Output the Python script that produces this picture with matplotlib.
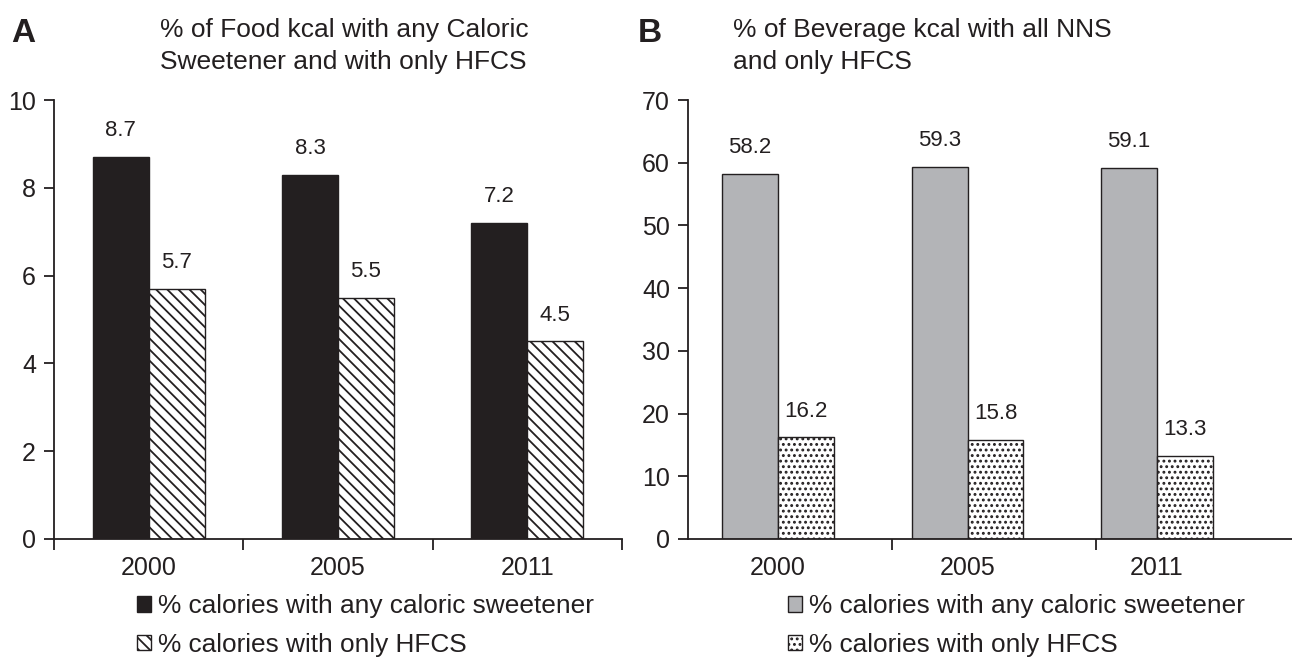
import matplotlib
matplotlib.use("Agg")
import matplotlib.pyplot as plt
from matplotlib.patches import Patch
import numpy as np

plt.rcParams['font.family'] = ['Liberation Sans', 'DejaVu Sans']
plt.rcParams['hatch.linewidth'] = 1.3

years = ["2000", "2005", "2011"]
food_any = [8.7, 8.3, 7.2]
food_hfcs = [5.7, 5.5, 4.5]
bev_any = [58.2, 59.3, 59.1]
bev_hfcs = [16.2, 15.8, 13.3]
label_any = "% calories with any caloric sweetener"
label_hfcs = "% calories with only HFCS"
title_a = "% of Food kcal with any Caloric\nSweetener and with only HFCS"
title_b = "% of Beverage kcal with all NNS\nand only HFCS"

W, H = 1292, 658
fig = plt.figure(figsize=(W / 100, H / 100), dpi=100)

def fx(px):
    return px / W

def fy(py):
    return 1 - py / H

ink = "#231f20"
gray = "#b3b4b7"
bw = 0.295
x = np.arange(len(years))
hatch_a = "\\\\\\"
hatch_b = "..."

# Panel A
axA = fig.add_axes([fx(54), fy(539), fx(622) - fx(54), fy(100) - fy(539)])
b1 = axA.bar(x - bw / 2, food_any, bw, color=ink, edgecolor=ink, linewidth=1)
b2 = axA.bar(x + bw / 2, food_hfcs, bw, color="white", edgecolor=ink, hatch=hatch_a, linewidth=1)
axA.set_ylim(0, 10)
axA.set_xlim(-0.5, 2.5)
axA.set_yticks(range(0, 11, 2))

# Panel B
cA = (778 - 688) / 189.5
axB = fig.add_axes([fx(688), fy(539), 1 - fx(688), fy(100) - fy(539)])
b3 = axB.bar(x - bw / 2, bev_any, bw, color=gray, edgecolor=ink, linewidth=1)
b4 = axB.bar(x + bw / 2, bev_hfcs, bw, color="white", edgecolor=ink, hatch=hatch_b, linewidth=1)
axB.set_ylim(0, 70)
axB.set_xlim(-cA, 2 + (1292 - 1157) / 189.5)
axB.set_yticks(range(0, 71, 10))

for ax, bars_list in ((axA, (b1, b2)), (axB, (b3, b4))):
    for bars in bars_list:
        for r in bars:
            ax.annotate("{:.1f}".format(r.get_height()), (r.get_x() + r.get_width() / 2, r.get_height()),
                        xytext=(0, 19), textcoords="offset points", ha="center", va="center",
                        fontsize=16, color=ink)
    for s in ("top", "right"):
        ax.spines[s].set_visible(False)
    for s in ("left", "bottom"):
        ax.spines[s].set_color(ink)
        ax.spines[s].set_linewidth(1.3)
    ax.set_xticks(x)
    ax.set_xticklabels(years)
    ax.tick_params(axis="x", length=0, labelsize=18, colors=ink, pad=12)
    ax.tick_params(axis="y", direction="out", length=7, width=1.3, labelsize=18, colors=ink, pad=6)

axA.set_xticks([-0.5, 0.5, 1.5, 2.5], minor=True)
axB.set_xticks([(892 - 778) / 189.5, (1096 - 778) / 189.5], minor=True)
for ax in (axA, axB):
    ax.tick_params(axis="x", which="minor", direction="out", length=8, width=1.3, colors=ink)

# Titles and panel letters
fig.text(fx(160), fy(46), title_a, fontsize=19, color=ink, ha="left", va="center", linespacing=1.4)
fig.text(fx(733), fy(46), title_b, fontsize=19, color=ink, ha="left", va="center", linespacing=1.4)
fig.text(fx(11), fy(33), "A", fontsize=24, fontweight="bold", color=ink, ha="left", va="center")
fig.text(fx(638), fy(33), "B", fontsize=24, fontweight="bold", color=ink, ha="left", va="center")

# Legends
hA = [Patch(facecolor=ink, edgecolor=ink), Patch(facecolor="white", edgecolor=ink, hatch=hatch_a)]
hB = [Patch(facecolor=gray, edgecolor=ink), Patch(facecolor="white", edgecolor=ink, hatch=hatch_b)]
for handles, xpx in ((hA, 137), (hB, 788)):
    fig.legend(handles, [label_any, label_hfcs], loc="upper left",
               bbox_to_anchor=(fx(xpx), fy(594)), frameon=False, fontsize=18.9,
               handlelength=0.55, handleheight=0.55, handletextpad=0.25,
               labelspacing=0.56, borderpad=0, borderaxespad=0, labelcolor=ink)

fig.savefig("out.png", dpi=100)
